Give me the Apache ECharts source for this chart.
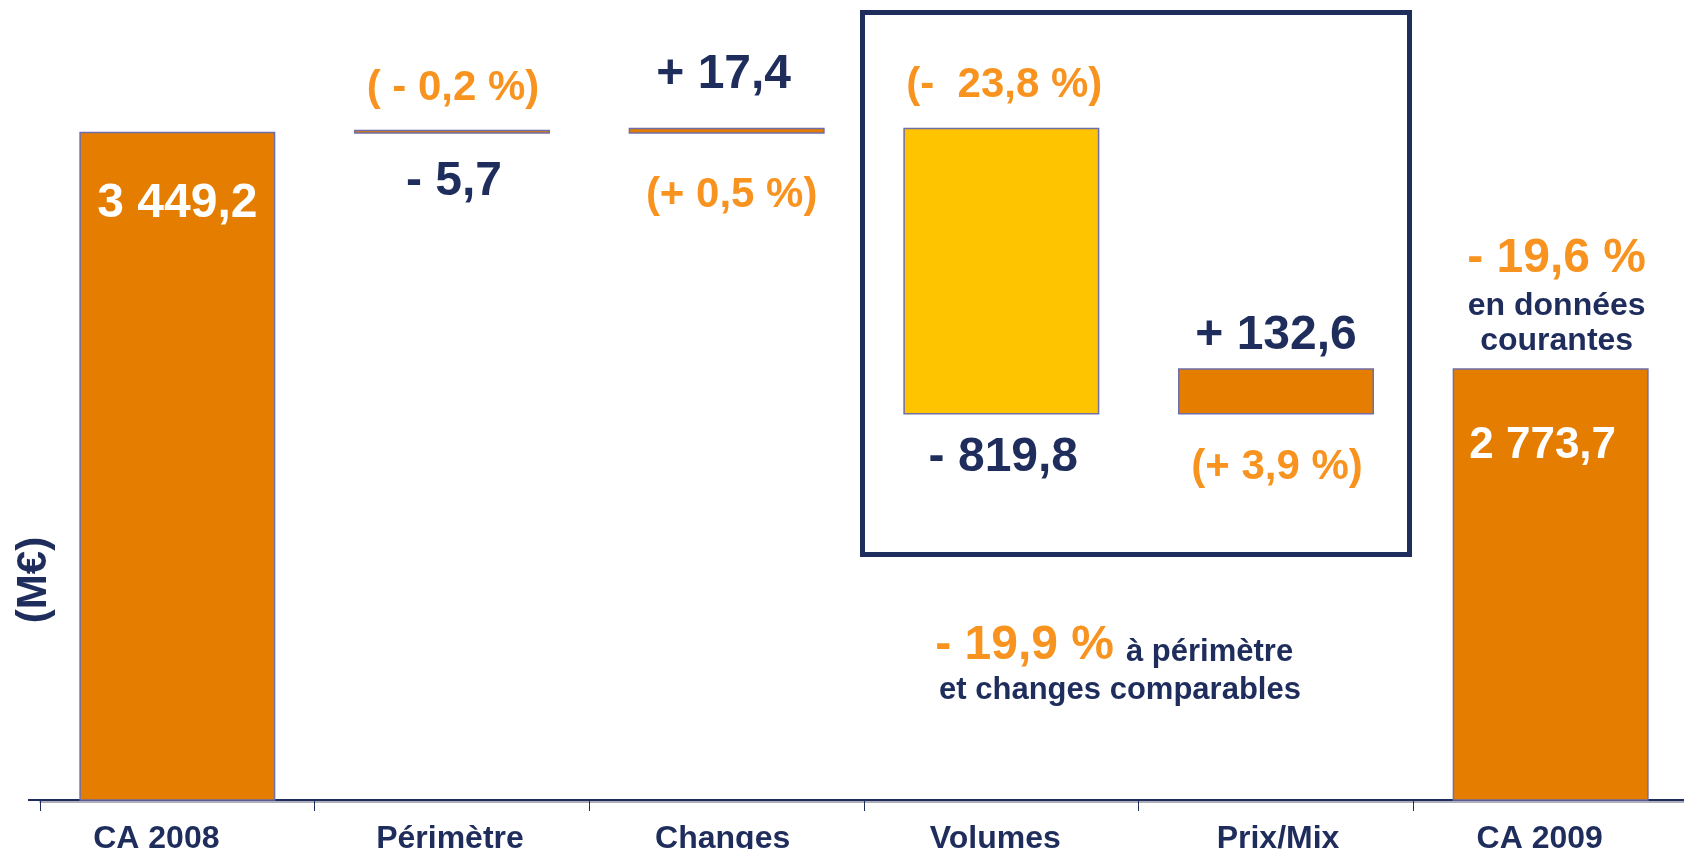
<!DOCTYPE html>
<html>
<head>
<meta charset="utf-8">
<script src="https://cdn.jsdelivr.net/npm/echarts@6/dist/echarts.min.js"></script>
<style>
html,body{margin:0;padding:0;background:#fff;}
#chart{width:1684px;height:849px;}
</style>
</head>
<body>
<div id="chart"></div>
<script>
// ---- data ----
const categories = ['CA 2008', 'Périmètre', 'Changes', 'Volumes', 'Prix/Mix', 'CA 2009'];
const values = [3449.2, -5.7, 17.4, -819.8, 132.6, 2773.7];
const isTotal = [true, false, false, false, false, true];
const valueLabels = ['3 449,2', '- 5,7', '+ 17,4', '- 819,8', '+ 132,6', '2 773,7'];
const pctLabels = ['', '( - 0,2 %)', '(+ 0,5 %)', '(-  23,8 %)', '(+ 3,9 %)', '- 19,6 %'];
const totalNote = ['en données', 'courantes'];
const lflPct = '- 19,9 %';
const lflNote = ['à périmètre', 'et changes comparables'];
const unitLabel = '(M€)';

// ---- derived waterfall ----
const baseData = [], deltaData = [];
let running = 0;
values.forEach((v, i) => {
  if (isTotal[i]) {
    baseData.push(0);
    deltaData.push(v);
    running = v;
  } else {
    const next = running + v;
    baseData.push(Math.min(running, next));
    deltaData.push(Math.abs(v));
    running = next;
  }
});

// ---- styles / layout ----
const NAVY = '#1f2d5c';
const ORANGE_TXT = '#f7931e';
const BAR_ORANGE = '#e57e00';
const BAR_YELLOW = '#ffc400';
const BORDER = '#6e6eaa';
const FONT = '"Liberation Sans", Arial, sans-serif';
const barColors = [BAR_ORANGE, BAR_ORANGE, BAR_ORANGE, BAR_YELLOW, BAR_ORANGE, BAR_ORANGE];
const valueLabelY = [204, 182, 75, 458, 336, 446];
const valueLabelDX = [0, 2, -3, 2, 0, -8];
const valueLabelSize = [48, 48, 48, 48, 48, 44];
const valueLabelColor = ['#ffffff', NAVY, NAVY, NAVY, NAVY, '#ffffff'];
const pctLabelY = [0, 88, 195, 85, 467, 259];
const pctLabelDX = [0, 1, 5, 3, 1, 6];
const pctLabelSize = [0, 42, 42, 42, 42, 48];
const catLabelShift = [-21, -2, -4, -6, 2, -11];

const chart = echarts.init(document.getElementById('chart'), null, {renderer: 'canvas'});

const rich = {};
catLabelShift.forEach((s, i) => {
  rich['c' + i] = {
    color: NAVY, fontSize: 32, fontWeight: 'bold', fontFamily: FONT,
    padding: s < 0 ? [0, -2 * s, 0, 0] : [0, 0, 0, 2 * s]
  };
});

chart.setOption({
  animation: false,
  backgroundColor: '#ffffff',
  grid: {left: 40, right: -4, top: 114, bottom: 49, containLabel: false, outerBoundsMode: 'none'},
  xAxis: {
    type: 'category',
    data: categories,
    boundaryGap: true,
    axisLine: {show: true, lineStyle: {color: NAVY, width: 2, shadowColor: 'rgba(120,120,140,0.6)', shadowOffsetY: 2}},
    axisTick: {show: true, length: 11, lineStyle: {color: NAVY, width: 1}},
    axisLabel: {
      color: NAVY, fontSize: 32, fontWeight: 'bold', fontFamily: FONT, margin: 23, interval: 0,
      formatter: (v, i) => '{c' + i + '|' + v + '}',
      rich: rich
    }
  },
  yAxis: {
    type: 'value', min: 1540, max: 3500, show: false,
    splitLine: {show: false}
  },
  series: [
    {
      type: 'bar', stack: 'wf', data: baseData, barWidth: 196, clip: true,
      itemStyle: {color: 'rgba(0,0,0,0)'}, silent: true
    },
    {
      type: 'bar', stack: 'wf', barWidth: 196, clip: true, barMinHeight: 4,
      data: deltaData.map((v, i) => ({value: v, itemStyle: {color: barColors[i], borderColor: BORDER, borderWidth: 1.5}}))
    }
  ]
});

function addGraphics() {
  const xs = categories.map((c, i) => chart.convertToPixel({xAxisIndex: 0}, i));
  const els = [];
  const shadow = {textShadowColor: 'rgba(150,150,150,0.75)', textShadowOffsetX: 2, textShadowOffsetY: 2, textShadowBlur: 0};
  valueLabels.forEach((t, i) => {
    els.push({type: 'text', z: 50, x: xs[i] + valueLabelDX[i], y: valueLabelY[i], style: {
      text: t, fill: valueLabelColor[i], font: 'bold ' + valueLabelSize[i] + 'px ' + FONT, align: 'center', verticalAlign: 'middle'}});
  });
  pctLabels.forEach((t, i) => {
    if (!t) return;
    els.push({type: 'text', z: 50, x: xs[i] + pctLabelDX[i], y: pctLabelY[i], style: Object.assign({
      text: t, fill: ORANGE_TXT, font: 'bold ' + pctLabelSize[i] + 'px ' + FONT, align: 'center', verticalAlign: 'middle'}, shadow)});
  });
  totalNote.forEach((t, k) => {
    els.push({type: 'text', z: 50, x: xs[5] + 6, y: 306 + k * 35, style: {
      text: t, fill: NAVY, font: 'bold 32px ' + FONT, align: 'center', verticalAlign: 'middle'}});
  });
  // like-for-like note
  els.push({type: 'text', z: 50, x: 1114, y: 646, style: Object.assign({
    text: lflPct, fill: ORANGE_TXT, font: 'bold 48px ' + FONT, align: 'right', verticalAlign: 'middle'}, shadow)});
  els.push({type: 'text', z: 50, x: 1126, y: 652, style: {
    text: lflNote[0], fill: NAVY, font: 'bold 31px ' + FONT, align: 'left', verticalAlign: 'middle'}});
  els.push({type: 'text', z: 50, x: 1120, y: 690, style: {
    text: lflNote[1], fill: NAVY, font: 'bold 31px ' + FONT, align: 'center', verticalAlign: 'middle'}});
  // unit label
  els.push({type: 'text', z: 50, x: 34, y: 580, rotation: Math.PI / 2, style: {
    text: unitLabel, fill: NAVY, font: 'bold 42px ' + FONT, align: 'center', verticalAlign: 'middle'}});
  // box around volumes / prix-mix
  els.push({type: 'rect', z: 50, shape: {x: 862.5, y: 12.5, width: 547, height: 542},
    style: {fill: 'none', stroke: NAVY, lineWidth: 5}});
  // axis line stub to the left of first tick
  els.push({type: 'line', z: 50, shape: {x1: 28, y1: 800, x2: 41, y2: 800}, style: {stroke: NAVY, lineWidth: 2}});
  chart.setOption({graphic: {elements: els}});
}
addGraphics();
</script>
</body>
</html>
